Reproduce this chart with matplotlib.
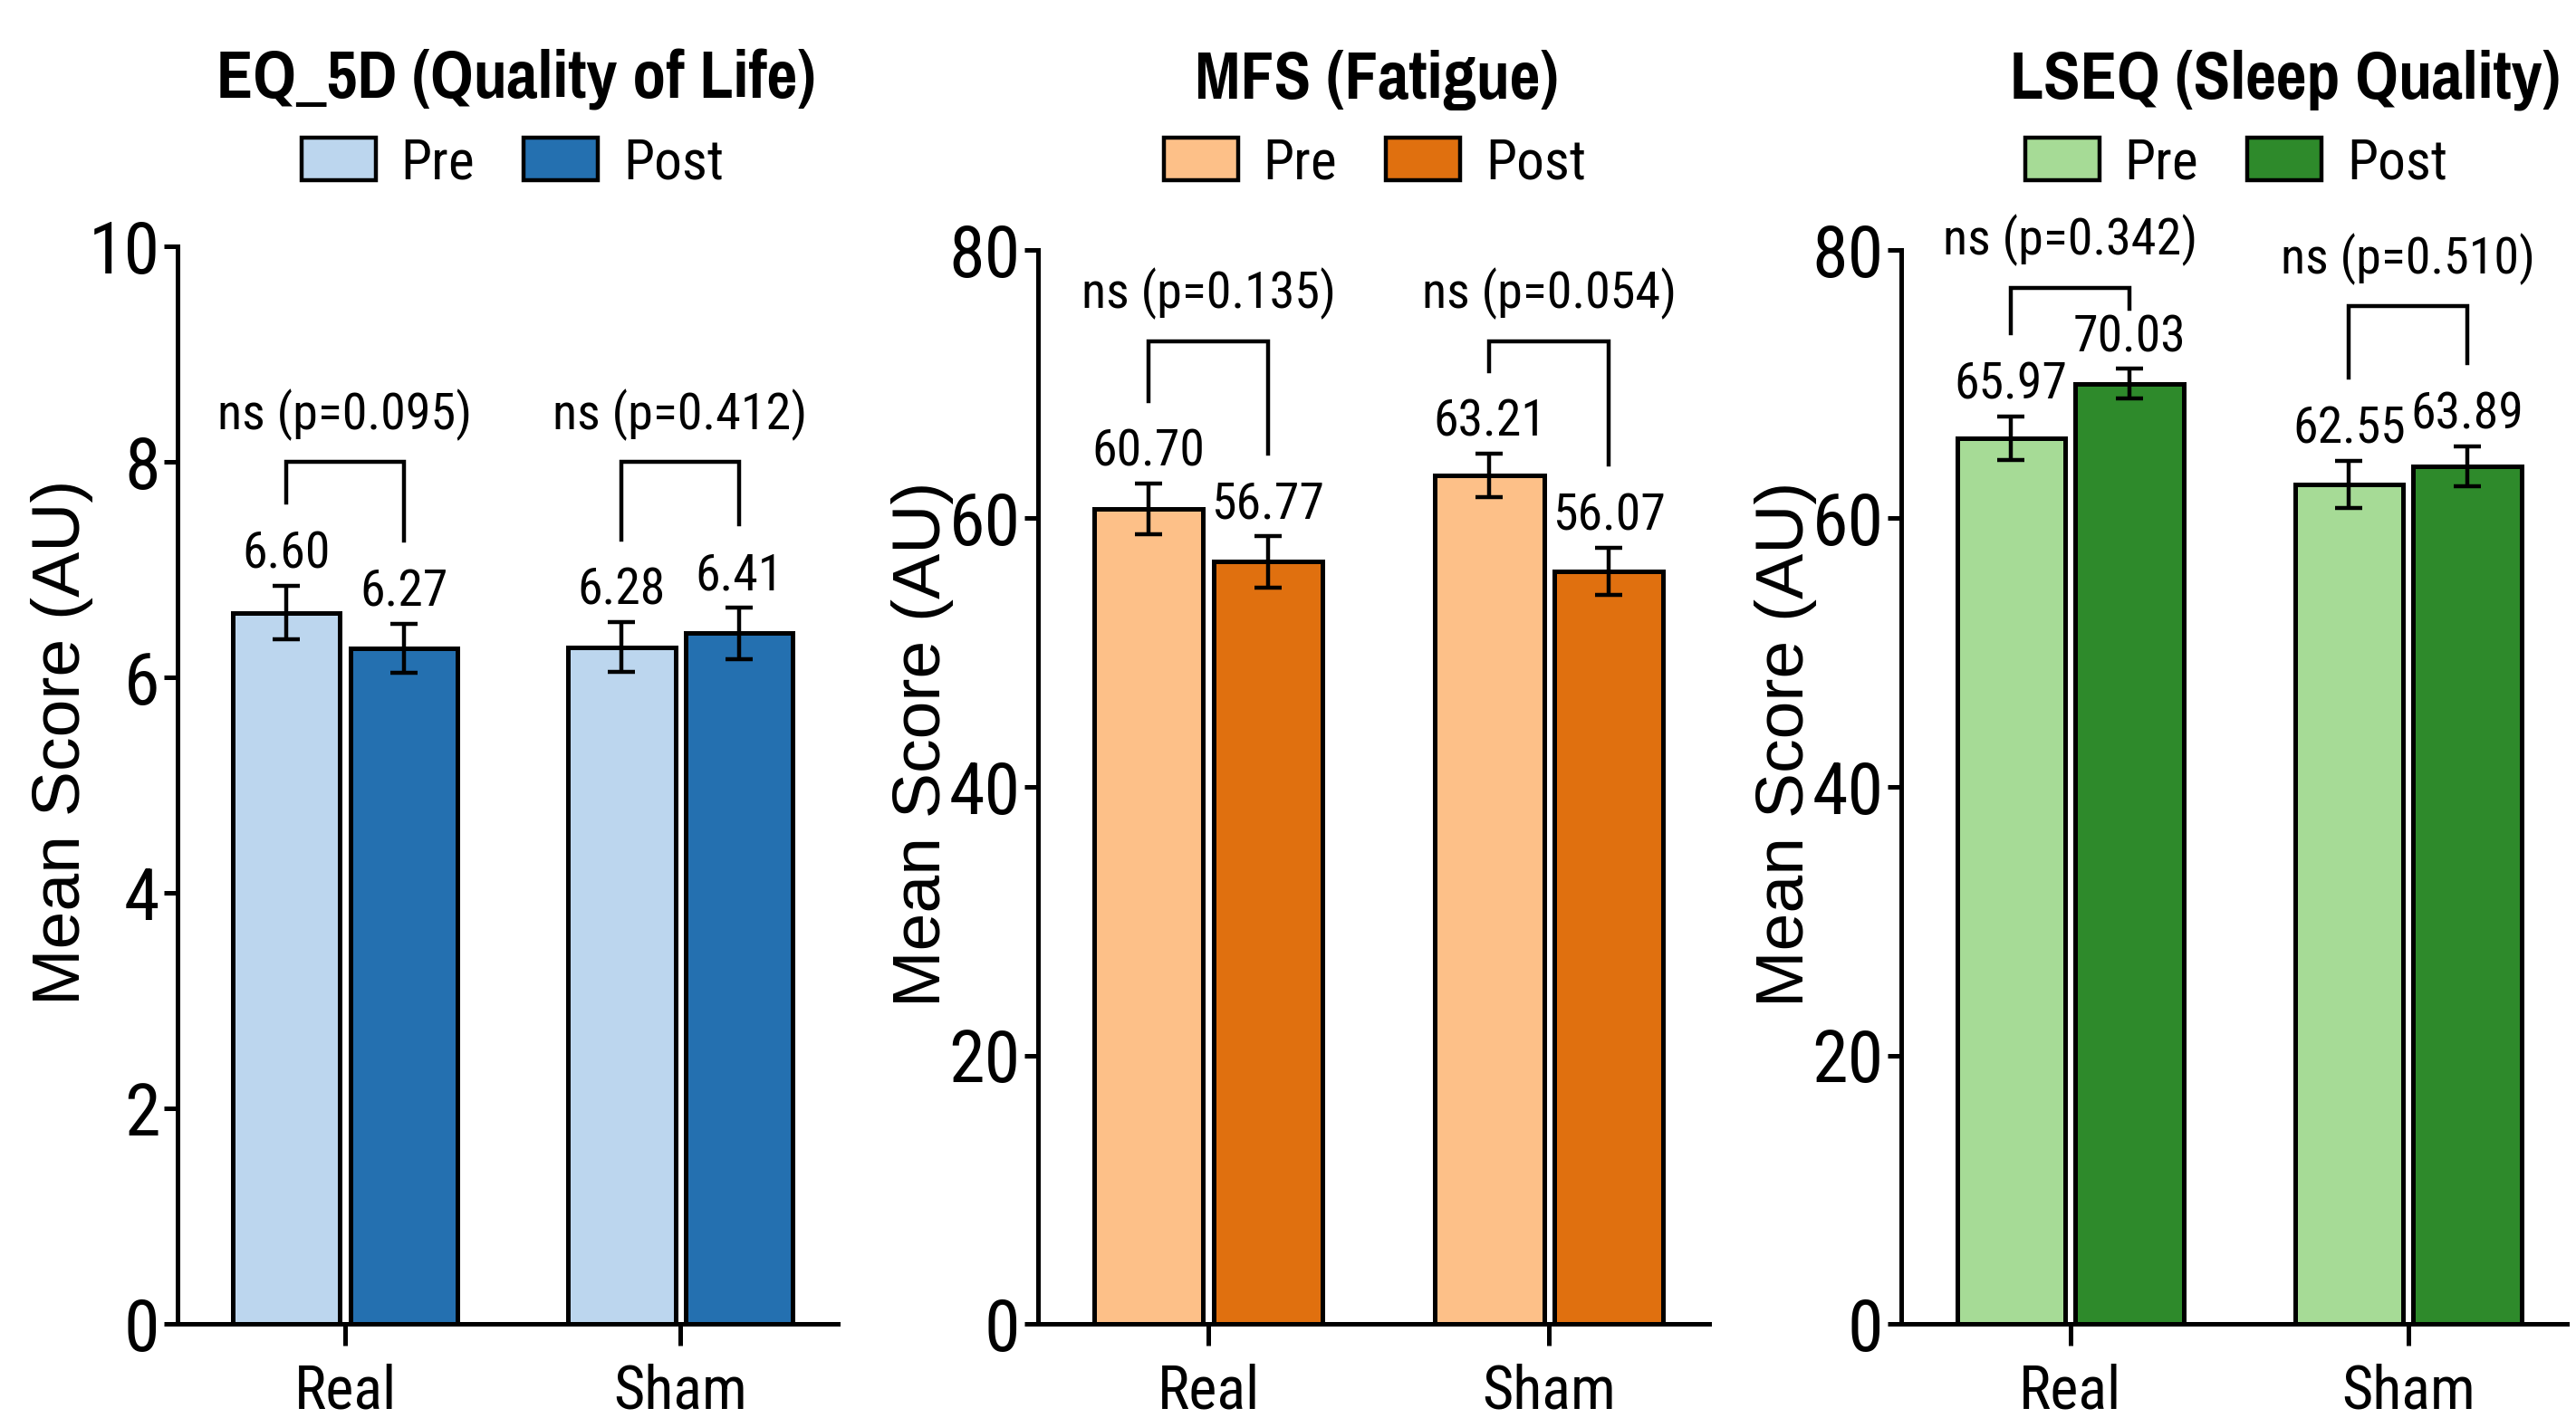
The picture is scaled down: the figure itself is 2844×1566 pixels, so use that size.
import matplotlib
matplotlib.use('Agg')
import matplotlib.pyplot as plt
from matplotlib.patches import Patch
from matplotlib.textpath import TextPath
from matplotlib.font_manager import FontProperties
import numpy as np

NARROW = ['Roboto Condensed', 'Pragati Narrow', 'Liberation Sans', 'DejaVu Sans']
NARROW_BOLD = ['Pragati Narrow', 'Roboto Condensed', 'Liberation Sans', 'DejaVu Sans']
REGULAR = ['Liberation Sans', 'DejaVu Sans']
plt.rcParams['font.family'] = NARROW

# ---------------- data ----------------
groups = ['Real', 'Sham']
phases = ['Pre', 'Post']
titles = ['EQ_5D (Quality of Life)', 'MFS (Fatigue)', 'LSEQ (Sleep Quality)']
y_label = 'Mean Score (AU)'

eq5d_pre = [6.60, 6.28]
eq5d_post = [6.27, 6.41]
eq5d_pre_se = [0.25, 0.23]
eq5d_post_se = [0.23, 0.24]
eq5d_p = [0.095, 0.412]

mfs_pre = [60.70, 63.21]
mfs_post = [56.77, 56.07]
mfs_pre_se = [1.9, 1.6]
mfs_post_se = [1.9, 1.75]
mfs_p = [0.135, 0.054]

lseq_pre = [65.97, 62.55]
lseq_post = [70.03, 63.89]
lseq_pre_se = [1.65, 1.75]
lseq_post_se = [1.1, 1.5]
lseq_p = [0.342, 0.510]

y_max = [10, 80, 80]
y_ticks = [[0, 2, 4, 6, 8, 10], [0, 20, 40, 60, 80], [0, 20, 40, 60, 80]]
bracket_levels = [[8.0, 8.0], [73.2, 73.2], [77.2, 75.8]]

pre_colors = ['#bcd6ee', '#fdc088', '#a6db96']
post_colors = ['#2470b0', '#e0700f', '#2e8a2b']

panels = [
    (eq5d_pre, eq5d_post, eq5d_pre_se, eq5d_post_se, eq5d_p),
    (mfs_pre, mfs_post, mfs_pre_se, mfs_post_se, mfs_p),
    (lseq_pre, lseq_post, lseq_pre_se, lseq_post_se, lseq_p),
]

# ---------------- layout ----------------
W, H = 2844, 1566
DPI = 200
PX_PER_PT = DPI / 72.0


def fit_size(text, target_px, family, weight='normal'):
    """Font size (pt) whose ink width of `text` equals target_px pixels."""
    tp = TextPath((0, 0), text, size=100,
                  prop=FontProperties(family=family, weight=weight))
    w = tp.get_extents().width
    return target_px / (w / 100.0 * PX_PER_PT)


fs_title = fit_size(titles[0], 655, NARROW_BOLD, 'bold')
fs_value = fit_size('60.70', 118, NARROW)
fs_ns = fit_size('ns (p=0.135)', 274, NARROW)
fs_ytick = fit_size('80', 70, NARROW)
fs_xtick = fit_size('Sham', 141, NARROW)
fs_leg = fit_size('Post', 104, NARROW)
fs_ylab = fit_size(y_label, 570, REGULAR)
leg_px = fs_leg * PX_PER_PT

fig = plt.figure(figsize=(W / DPI, H / DPI), dpi=DPI)

ax_px = [(196, 925), (1146, 1887), (2099, 2834)]
ax_top_px = [272, 276, 276]
ax_bottom_px = 1462
title_cx = [570, 1520, 2523]
legend_cx = [566, 1518, 2469]

bar_w = 0.32
off = 0.175
LW = 1.8

for i, (pre, post, pre_se, post_se, pvals) in enumerate(panels):
    l, r = ax_px[i]
    ax = fig.add_axes([l / W, 1 - ax_bottom_px / H, (r - l) / W,
                       (ax_bottom_px - ax_top_px[i]) / H])
    x = np.arange(len(groups))
    ekw = dict(elinewidth=1.6, capthick=1.6, ecolor='black')
    ax.bar(x - off, pre, bar_w, yerr=pre_se, color=pre_colors[i],
           edgecolor='black', linewidth=LW, capsize=5.5, error_kw=ekw, zorder=2)
    ax.bar(x + off, post, bar_w, yerr=post_se, color=post_colors[i],
           edgecolor='black', linewidth=LW, capsize=5.5, error_kw=ekw, zorder=2)

    ymax = y_max[i]
    ax.set_xlim(-0.5, 1.47)
    ax.set_ylim(0, ymax)
    ax.set_yticks(y_ticks[i])
    ax.set_xticks(x)
    ax.set_xticklabels(groups)
    ax.tick_params(axis='y', labelsize=fs_ytick, length=5.5, width=LW, pad=1.5)
    ax.tick_params(axis='x', labelsize=fs_xtick, length=8.5, width=LW, pad=7)
    for s in ['top', 'right']:
        ax.spines[s].set_visible(False)
    for s in ['left', 'bottom']:
        ax.spines[s].set_linewidth(LW)

    ax.set_ylabel(y_label, fontsize=fs_ylab, family=REGULAR)
    ax.yaxis.set_label_coords(-93.0 / (r - l), 0.54)

    # value labels
    for xs, vals, ses in [(x - off, pre, pre_se), (x + off, post, post_se)]:
        for xx, v, e in zip(xs, vals, ses):
            ax.annotate(f'{v:.2f}', (xx, v + e), xytext=(0, 7),
                        textcoords='offset points', ha='center', va='baseline',
                        fontsize=fs_value, clip_on=False)

    # significance brackets
    for g in range(len(groups)):
        level = bracket_levels[i][g]
        x1, x2 = x[g] - off, x[g] + off
        y1 = min(pre[g] + pre_se[g] + 0.077 * ymax, level - 0.02 * ymax)
        y2 = min(post[g] + post_se[g] + 0.077 * ymax, level - 0.02 * ymax)
        ax.plot([x1, x1, x2, x2], [y1, level, level, y2], color='black',
                lw=1.6, clip_on=False, solid_joinstyle='miter')
        ax.annotate(f'ns (p={pvals[g]:.3f})', ((x1 + x2) / 2, level),
                    xytext=(0, 13), textcoords='offset points', ha='center',
                    va='baseline', fontsize=fs_ns, clip_on=False)

    fig.text(title_cx[i] / W, 1 - 109 / H, titles[i], ha='center',
             va='baseline', fontsize=fs_title, fontweight='bold',
             family=NARROW_BOLD)

    handles = [Patch(facecolor=pre_colors[i], edgecolor='black', linewidth=1.6),
               Patch(facecolor=post_colors[i], edgecolor='black', linewidth=1.6)]
    ax.legend(handles, phases, loc='center', ncol=2, frameon=False,
              bbox_to_anchor=(legend_cx[i] / W, 1 - 180 / H),
              bbox_transform=fig.transFigure, fontsize=fs_leg,
              handlelength=82 / leg_px, handleheight=50 / leg_px,
              handletextpad=28 / leg_px, columnspacing=54 / leg_px,
              borderaxespad=0, borderpad=0)

fig.savefig('out.png', dpi=DPI, facecolor='white')
